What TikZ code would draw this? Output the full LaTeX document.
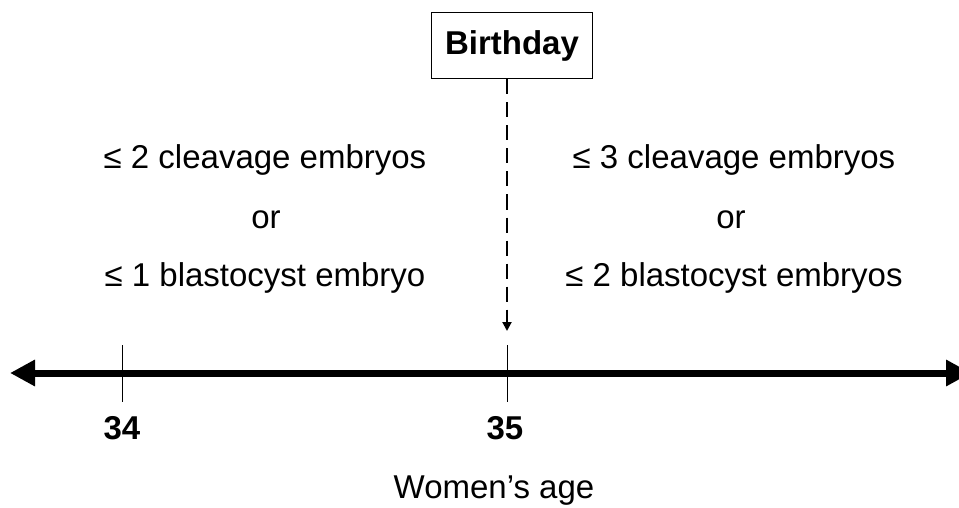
\documentclass[tikz,border=0pt]{standalone}
\usepackage{fontspec}
\setmainfont{Liberation Sans}
\usetikzlibrary{shapes,arrows.meta}

\begin{document}
\begin{tikzpicture}[x=1pt,y=-1pt]
\tikzstyle{rule} = [font=\fontsize{33}{39}\selectfont]
\tikzstyle{age} = [font=\fontsize{33}{39}\selectfont\bfseries]
\tikzstyle{tick} = [draw, line width=1pt]
\useasboundingbox (0,0) rectangle (959,508);
% time line
\coordinate (left) at (10,373);
\coordinate (right) at (971,373);
\draw[line width=7pt, {Triangle[length=25pt,width=25pt]}-{Triangle[length=25pt,width=25pt]}] (left) -- (right);
\coordinate (t34a) at (122,345);
\coordinate (t34b) at (122,402);
\coordinate (t35a) at (507,345);
\coordinate (t35b) at (507,402);
\path[tick] (t34a) -- (t34b);
\path[tick] (t35a) -- (t35b);
\node[age] (a34) at (122,428) {34};
\node[age] (a35) at (505,428) {35};
\node[rule] (women) at (494,491) {Women’s age};
% birthday
\node[age, draw, line width=1pt, minimum width=161pt, minimum height=66pt] (birthday) at (512,46) {Birthday};
\coordinate (tip) at (507,331);
\draw[line width=2pt, dash pattern=on 15pt off 8pt, -{Triangle[length=9pt,width=9pt]}] (birthday.south -| tip) -- (tip);
% rules left of birthday
\node[rule] (l1) at (265,160) {≤ 2 cleavage embryos};
\node[rule] (l2) at (266,220) {or};
\node[rule] (l3) at (265,278) {≤ 1 blastocyst embryo};
% rules right of birthday
\node[rule] (r1) at (734,160) {≤ 3 cleavage embryos};
\node[rule] (r2) at (731,220) {or};
\node[rule] (r3) at (734,278) {≤ 2 blastocyst embryos};
\end{tikzpicture}
\end{document}
